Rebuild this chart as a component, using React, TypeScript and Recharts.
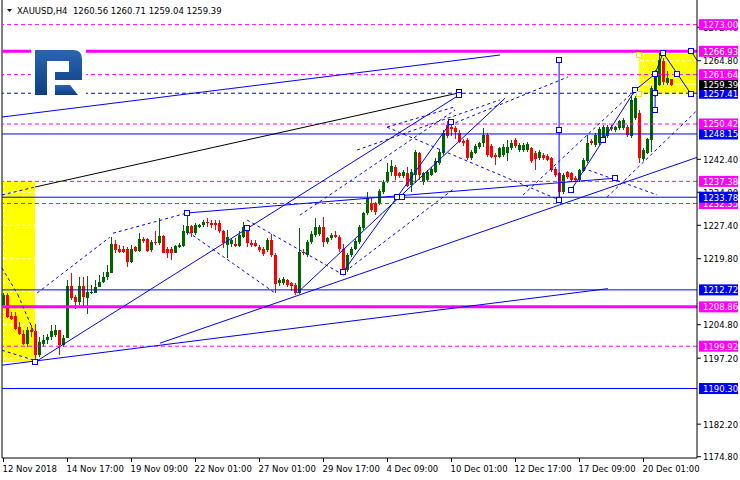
import React from 'react';
import { ComposedChart, Bar, XAxis, YAxis, ReferenceLine, ReferenceArea, ReferenceDot } from 'recharts';

// XAUUSD H4 candles, one per 4 hours from 12 Nov 2018
const opens = [
  1209.25, 1211.5, 1206.8, 1206.8, 1204.3, 1202.8, 1200.5, 1203.7, 1203.3, 1197.9,
  1200.5, 1201.3, 1202.0, 1202.4, 1203.55, 1200.1, 1201.7, 1213.6, 1211.1, 1210.0,
  1213.6, 1210.9, 1212.05, 1212.05, 1213.4, 1214.6, 1215.55, 1216.6, 1223.1, 1221.9,
  1221.9, 1221.9, 1219.1, 1222.4, 1221.6, 1224.2, 1224.2, 1221.8, 1223.7, 1223.3,
  1225.0, 1221.9, 1221.9, 1221.2, 1222.4, 1222.7, 1225.7, 1227.2, 1225.7, 1227.1,
  1227.5, 1228.2, 1227.85, 1228.0, 1227.85, 1226.2, 1222.9, 1223.1, 1223.1, 1222.7,
  1224.8, 1226.9, 1223.4, 1223.3, 1222.5, 1221.9, 1221.75, 1224.0, 1220.6, 1214.2,
  1214.3, 1214.9, 1214.3, 1213.8, 1211.9, 1221.4, 1220.6, 1223.6, 1225.2, 1225.5,
  1227.1, 1223.6, 1224.4, 1225.2, 1224.8, 1222.1, 1217.2, 1220.6, 1222.1, 1223.6,
  1226.7, 1230.1, 1232.4, 1232.4, 1232.4, 1235.0, 1237.3, 1239.6, 1240.7, 1239.2,
  1238.5, 1239.2, 1236.6, 1238.8, 1243.8, 1237.3, 1237.7, 1238.8, 1239.6, 1241.5,
  1243.8, 1250.2, 1249.7, 1249.5, 1248.3, 1246.6, 1246.8, 1242.6, 1243.9, 1245.3,
  1246.0, 1247.9, 1245.4, 1243.4, 1243.0, 1243.4, 1243.8, 1244.9, 1246.8, 1244.5,
  1244.4, 1244.5, 1244.9, 1243.8, 1242.6, 1243.4, 1243.2, 1242.6, 1240.3, 1239.2,
  1235.0, 1239.4, 1239.2, 1238.1, 1237.7, 1239.8, 1241.9, 1246.6, 1245.7, 1246.0,
  1247.2, 1247.6, 1249.7, 1249.1, 1249.4, 1249.4, 1249.8, 1247.6, 1251.7, 1253.0,
  1242.4, 1243.8, 1246.8, 1257.5, 1259.3, 1264.8, 1259.7, 1260.56,
];
const highs = [
  1212.0, 1211.9, 1207.7, 1207.7, 1205.45, 1203.7, 1204.3, 1204.7, 1204.9, 1202.0,
  1202.4, 1202.8, 1204.7, 1204.7, 1203.7, 1202.4, 1215.0, 1216.5, 1211.5, 1215.7,
  1215.7, 1215.9, 1213.8, 1214.9, 1216.1, 1216.8, 1218.4, 1224.8, 1224.1, 1222.9,
  1222.7, 1222.4, 1222.9, 1222.7, 1225.6, 1224.8, 1224.4, 1224.1, 1226.2, 1229.0,
  1225.2, 1222.5, 1222.4, 1222.9, 1223.4, 1227.5, 1230.0, 1227.5, 1227.85, 1227.7,
  1228.6, 1229.0, 1228.6, 1228.6, 1228.6, 1226.3, 1226.3, 1224.4, 1224.4, 1226.0,
  1228.2, 1227.2, 1224.0, 1224.0, 1223.0, 1222.4, 1224.4, 1225.5, 1221.0, 1215.5,
  1215.7, 1215.3, 1214.6, 1214.2, 1226.7, 1222.0, 1224.0, 1226.0, 1229.0, 1227.5,
  1229.3, 1224.8, 1225.6, 1226.0, 1225.2, 1223.2, 1221.0, 1222.5, 1224.2, 1227.5,
  1230.5, 1235.0, 1233.5, 1232.8, 1235.7, 1237.7, 1241.5, 1242.2, 1241.1, 1239.6,
  1240.0, 1240.7, 1240.3, 1244.5, 1244.1, 1239.6, 1240.0, 1240.7, 1242.6, 1244.8,
  1249.1, 1251.0, 1250.2, 1250.0, 1249.1, 1247.0, 1247.2, 1244.6, 1245.8, 1246.4,
  1249.5, 1248.3, 1245.8, 1243.8, 1245.3, 1245.8, 1246.8, 1246.8, 1247.2, 1246.2,
  1246.0, 1246.3, 1245.3, 1244.2, 1244.5, 1243.8, 1243.6, 1243.0, 1240.7, 1239.6,
  1239.2, 1239.8, 1239.6, 1238.5, 1240.3, 1242.6, 1247.9, 1247.0, 1248.3, 1249.7,
  1250.1, 1250.1, 1250.1, 1250.0, 1251.4, 1251.8, 1250.2, 1256.7, 1256.7, 1253.5,
  1244.9, 1247.3, 1259.0, 1262.6, 1266.6, 1265.5, 1262.5, 1260.71,
];
const lows = [
  1208.9, 1206.4, 1205.8, 1203.7, 1202.4, 1200.1, 1199.75, 1202.0, 1196.5, 1197.5,
  1199.75, 1200.5, 1201.3, 1202.0, 1197.9, 1199.75, 1201.7, 1210.5, 1208.3, 1209.2,
  1209.0, 1207.35, 1211.75, 1211.9, 1213.3, 1214.2, 1214.9, 1216.5, 1221.2, 1221.2,
  1221.0, 1218.0, 1218.9, 1221.4, 1221.4, 1223.3, 1221.4, 1221.4, 1222.9, 1222.9,
  1221.0, 1219.9, 1219.5, 1221.0, 1222.2, 1222.5, 1225.2, 1224.8, 1225.2, 1226.7,
  1227.1, 1227.1, 1226.7, 1226.3, 1225.6, 1222.2, 1219.9, 1222.5, 1222.5, 1222.5,
  1224.4, 1222.5, 1222.5, 1222.4, 1221.4, 1220.4, 1221.4, 1220.2, 1211.9, 1213.6,
  1213.9, 1213.4, 1212.5, 1211.5, 1211.7, 1220.6, 1220.2, 1223.2, 1224.8, 1225.0,
  1222.5, 1223.2, 1224.0, 1224.4, 1221.4, 1216.4, 1216.8, 1220.2, 1221.7, 1223.2,
  1226.3, 1229.7, 1230.5, 1229.7, 1232.0, 1234.6, 1236.9, 1238.5, 1237.7, 1238.2,
  1238.1, 1236.0, 1235.0, 1236.9, 1237.7, 1236.6, 1237.3, 1238.5, 1239.2, 1241.1,
  1243.4, 1247.2, 1247.6, 1247.0, 1246.0, 1245.5, 1242.2, 1242.2, 1243.5, 1244.8,
  1245.3, 1243.0, 1242.6, 1241.1, 1242.6, 1243.0, 1241.9, 1244.5, 1245.0, 1244.1,
  1244.0, 1244.1, 1241.5, 1239.9, 1242.2, 1242.2, 1241.9, 1239.6, 1238.4, 1233.9,
  1234.6, 1237.9, 1237.3, 1237.3, 1237.3, 1239.4, 1241.5, 1245.6, 1245.3, 1245.6,
  1246.8, 1247.2, 1248.8, 1248.7, 1249.0, 1249.0, 1247.5, 1247.2, 1251.3, 1241.5,
  1242.0, 1243.7, 1244.1, 1256.5, 1259.0, 1259.3, 1259.3, 1259.04,
];
const closes = [
  1211.5, 1206.6, 1206.2, 1203.9, 1202.8, 1200.4, 1203.7, 1203.2, 1197.9, 1200.9,
  1201.3, 1202.0, 1203.3, 1203.55, 1200.1, 1201.7, 1213.6, 1210.8, 1210.0, 1213.6,
  1211.1, 1212.3, 1212.3, 1213.4, 1214.6, 1215.7, 1216.8, 1223.1, 1221.8, 1221.4,
  1221.4, 1219.1, 1221.9, 1221.6, 1224.2, 1223.9, 1221.6, 1223.7, 1223.3, 1225.0,
  1221.2, 1221.2, 1221.2, 1222.7, 1222.9, 1226.1, 1227.2, 1225.7, 1227.5, 1227.5,
  1228.2, 1227.85, 1227.5, 1227.5, 1226.0, 1223.3, 1224.8, 1224.1, 1222.7, 1225.2,
  1226.9, 1223.4, 1222.9, 1222.8, 1221.8, 1220.8, 1224.0, 1220.6, 1214.0, 1215.0,
  1215.3, 1213.8, 1213.6, 1211.9, 1221.4, 1221.0, 1223.6, 1225.5, 1227.1, 1227.1,
  1223.6, 1224.4, 1225.2, 1224.8, 1222.1, 1217.2, 1220.6, 1222.1, 1223.8, 1227.1,
  1230.1, 1233.5, 1230.9, 1230.5, 1235.3, 1237.3, 1239.6, 1240.9, 1238.5, 1238.6,
  1239.6, 1236.3, 1239.6, 1244.1, 1238.8, 1239.2, 1239.6, 1240.3, 1241.9, 1244.1,
  1248.3, 1247.6, 1249.2, 1248.5, 1246.4, 1246.0, 1242.6, 1244.1, 1245.4, 1246.0,
  1247.9, 1243.4, 1243.0, 1243.0, 1244.9, 1245.3, 1245.3, 1246.2, 1245.4, 1245.7,
  1245.7, 1245.9, 1241.9, 1242.4, 1244.1, 1242.6, 1242.3, 1240.0, 1238.8, 1235.0,
  1238.8, 1238.3, 1237.7, 1237.7, 1240.0, 1242.2, 1246.2, 1246.0, 1247.9, 1249.3,
  1249.7, 1249.7, 1249.2, 1249.7, 1251.0, 1251.4, 1247.9, 1255.9, 1256.3, 1242.6,
  1244.5, 1246.9, 1258.5, 1262.0, 1264.9, 1260.0, 1260.8, 1259.39,
];

const xTicks = [0, 16, 32, 48, 64, 80, 96, 112, 128, 144, 160];
const xTickLabels = [
  '12 Nov 2018', '14 Nov 17:00', '19 Nov 09:00', '22 Nov 01:00', '27 Nov 01:00', '29 Nov 17:00',
  '4 Dec 09:00', '10 Dec 01:00', '12 Dec 17:00', '17 Dec 09:00', '20 Dec 01:00',
];
// price grid; only these get a plain label on the scale
const gridPrices = [1174.8, 1182.2, 1189.7, 1197.2, 1204.8, 1212.3, 1219.8, 1227.4, 1234.9, 1242.4, 1249.9, 1257.4, 1264.8, 1272.4];
const priceLabels = [1174.8, 1182.2, 1197.2, 1204.8, 1219.8, 1227.4, 1234.9, 1242.4, 1264.8, 1272.4];

// horizontal levels drawn on the chart
const magentaDashed = [1273.0, 1261.64, 1250.42, 1237.38, 1232.35, 1199.92];
const magentaSolid = [1266.93, 1208.86];
const blueDashed = [1257.41];
const blueSolid = [1248.15, 1233.78, 1212.72, 1190.3];
const lastPrice = 1259.39;

// trend lines as [bar1, price1, bar2, price2]
const blueLines = [
  [-0.375, 1252.0, 124.1, 1266.1],
  [7.9, 1196.3, 113.9, 1257.0],
  [-0.375, 1195.6, 151.1, 1213.0],
  [39.1, 1200.6, 173.375, 1242.83],
  [45.9, 1230.2, 152.9, 1238.1],
  [73.4, 1212.0, 125.4, 1256.3],
  [84.9, 1216.8, 98.4, 1233.8],
  [98.4, 1233.8, 111.9, 1250.9],
  [138.9, 1265.0, 138.9, 1233.1],
  [141.9, 1235.4, 157.9, 1258.1],
  [157.9, 1258.1, 162.9, 1261.8],
  [162.9, 1261.8, 164.9, 1266.6],
  [164.9, 1266.6, 171.9, 1257.2],
  [162.9, 1261.8, 162.9, 1253.6],
  [171.9, 1267.0, 173.375, 1264.9],
];
const blackLines = [[7.9, 1236.1, 113.9, 1257.5]];
const dottedLines = [
  [8.4, 1212.0, 26.6, 1224.7],
  [27.4, 1225.6, 45.9, 1230.2],
  [46.1, 1225.9, 67.9, 1212.0],
  [60.9, 1228.6, 85.4, 1215.9],
  [74.1, 1229.7, 112.9, 1253.6],
  [88.4, 1244.5, 124.1, 1255.9],
  [86.6, 1217.7, 112.9, 1235.9],
  [95.9, 1249.7, 139.1, 1233.1],
  [144.9, 1240.4, 163.4, 1234.3],
  [129.9, 1234.3, 157.9, 1258.1],
  [150.9, 1233.8, 173.375, 1253.5],
  [111.6, 1250.2, 141.1, 1261.1],
  [95.9, 1249.7, 112.4, 1254.2],
  [-0.375, 1217.7, 3.6, 1211.6],
  [3.6, 1211.6, 7.9, 1202.5],
  [-0.375, 1199.0, 7.4, 1196.8],
  [-0.375, 1234.3, 7.9, 1236.1],
];
const anchorPoints = [
  [7.9, 1196.3], [45.9, 1230.2], [60.9, 1226.8], [84.9, 1216.8], [98.4, 1233.8], [99.6, 1233.8],
  [111.9, 1250.9], [113.9, 1257.0], [138.9, 1265.0], [138.9, 1249.05], [138.9, 1233.1],
  [141.9, 1235.4], [149.9, 1246.8], [152.9, 1238.1], [157.9, 1258.1], [162.9, 1261.8],
  [162.9, 1257.5], [162.9, 1253.6], [164.9, 1266.6], [168.4, 1261.8], [171.9, 1257.2], [171.9, 1267.0],
];
const boxAnchors = [[158.9, 1266.1], [158.9, 1257.2]];
// yellow zones as [bar1, bar2, priceLow, priceHigh]
const zones = [
  [-0.375, 7.9, 1196.3, 1237.38],
  [158.9, 173.375, 1257.2, 1266.3],
];

const X_DOMAIN = [-0.375, 173.375];
const Y_DOMAIN = [1174.51, 1278.6];
const FONT = '"DejaVu Sans", sans-serif';
const MAGENTA = '#ff00ff';
const BLUE = '#0000ff';

const data = opens.map((o, i) => ({
  i,
  o,
  h: highs[i],
  l: lows[i],
  c: closes[i],
  range: [lows[i], highs[i]],
}));

const boxes = [
  ...magentaDashed.map((p) => ({ p, color: MAGENTA })),
  ...magentaSolid.map((p) => ({ p, color: MAGENTA })),
  ...blueDashed.map((p) => ({ p, color: BLUE })),
  ...blueSolid.map((p) => ({ p, color: BLUE })),
  { p: lastPrice, color: '#000000' },
].sort((a, b) => a.p - b.p);

const yTickValues = [...priceLabels, ...boxes.map((b) => b.p)];

function Candle(props: any) {
  const { x, y, width, height, payload } = props;
  if (!payload) return null;
  const top = Math.min(y, y + height);
  const h = Math.abs(height);
  const k = h / (payload.h - payload.l || 1);
  const py = (v: number) => top + (payload.h - v) * k;
  const cx = Math.round(x + width / 2 - 0.5) + 0.5;
  const color = payload.c >= payload.o ? '#006400' : '#ff0000';
  const bt = py(Math.max(payload.o, payload.c));
  const bb = py(Math.min(payload.o, payload.c));
  return (
    <g shapeRendering="crispEdges">
      <line x1={cx} x2={cx} y1={top} y2={top + h} stroke={color} />
      <rect x={cx - 1.5} y={bt} width={3} height={Math.max(1, bb - bt)} fill={color} />
    </g>
  );
}

function PriceTick(props: any) {
  const { x, y, payload } = props;
  const v = payload.value;
  const box = boxes.find((b) => Math.abs(b.p - v) < 1e-6);
  if (box) {
    return (
      <g>
        <rect x={x + 2} y={y - 5.5} width={39} height={11} fill={box.color} />
        <text x={x + 6} y={y + 3.5} fill="#fff" fontSize={8.5} fontFamily={FONT}>{v.toFixed(2)}</text>
      </g>
    );
  }
  return (
    <g>
      <line x1={x} x2={x + 4} y1={y} y2={y} stroke="#000" />
      <text x={x + 6} y={y + 3.5} fill="#000" fontSize={8.5} fontFamily={FONT}>{v.toFixed(2)}</text>
    </g>
  );
}

function TimeTick(props: any) {
  const { x, y, payload } = props;
  const label = xTickLabels[xTicks.indexOf(payload.value)];
  return (
    <g>
      <line x1={x} x2={x} y1={y} y2={y + 4} stroke="#000" />
      <text x={x - 1} y={y + 14} fill="#000" fontSize={8.5} fontFamily={FONT}>{label}</text>
    </g>
  );
}

const square = (stroke: string) => (p: any) => (
  <rect x={Math.round(p.cx) - 2.5} y={Math.round(p.cy) - 2.5} width={5} height={5} fill="#fff" stroke={stroke} />
);

export default function App() {
  return (
    <div style={{ position: 'absolute', left: 0, top: 0, width: 740, height: 480, background: '#fff' }}>
      <ComposedChart width={740} height={480} data={data} margin={{ top: 0, right: 0, bottom: 0, left: 2 }}>
        <XAxis
          type="number"
          dataKey="i"
          domain={X_DOMAIN}
          allowDataOverflow
          ticks={xTicks}
          interval={0}
          height={22}
          tickSize={0}
          tickMargin={0}
          tick={<TimeTick />}
          axisLine={{ stroke: '#000' }}
          tickLine={false}
        />
        <YAxis
          type="number"
          orientation="right"
          domain={Y_DOMAIN}
          allowDataOverflow
          ticks={yTickValues}
          interval={0}
          width={43}
          tickSize={0}
          tickMargin={0}
          tick={<PriceTick />}
          axisLine={{ stroke: '#000' }}
          tickLine={false}
        />
        {zones.map((z, k) => (
          <ReferenceArea key={'z' + k} x1={z[0]} x2={z[1]} y1={z[2]} y2={z[3]} fill="#ffff00" fillOpacity={1} stroke="none" ifOverflow="visible" zIndex={50} />
        ))}
        {gridPrices.map((p) => (
          <ReferenceLine key={'g' + p} y={p} stroke="#fff" strokeDasharray="3 3" zIndex={60} />
        ))}
        {xTicks.map((t) => (
          <ReferenceLine key={'gx' + t} x={t} stroke="#fff" strokeDasharray="3 3" zIndex={60} />
        ))}
        <ReferenceLine segment={[{ x: 158.9, y: 1259.5 }, { x: 173.375, y: 1259.5 }]} stroke="#fff" zIndex={60} />
        <ReferenceLine x={X_DOMAIN[0]} stroke="#000" ifOverflow="visible" zIndex={60} />
        <Bar dataKey="range" barSize={3} shape={<Candle />} isAnimationActive={false} zIndex={300} />
        {magentaDashed.map((p) => (
          <ReferenceLine key={'md' + p} y={p} stroke={MAGENTA} strokeDasharray="4 3" zIndex={400} />
        ))}
        {magentaSolid.map((p) => (
          <ReferenceLine key={'ms' + p} y={p} stroke={MAGENTA} strokeWidth={3} zIndex={400} />
        ))}
        {blueDashed.map((p) => (
          <ReferenceLine key={'bd' + p} y={p} stroke={BLUE} strokeDasharray="4 3" zIndex={400} />
        ))}
        {blueSolid.map((p) => (
          <ReferenceLine key={'bs' + p} y={p} stroke={BLUE} zIndex={400} />
        ))}
        {dottedLines.map((s, k) => (
          <ReferenceLine key={'d' + k} segment={[{ x: s[0], y: s[1] }, { x: s[2], y: s[3] }]} stroke={BLUE} strokeDasharray="3 3" ifOverflow="visible" zIndex={410} />
        ))}
        {blackLines.map((s, k) => (
          <ReferenceLine key={'k' + k} segment={[{ x: s[0], y: s[1] }, { x: s[2], y: s[3] }]} stroke="#000" ifOverflow="visible" zIndex={410} />
        ))}
        {blueLines.map((s, k) => (
          <ReferenceLine key={'l' + k} segment={[{ x: s[0], y: s[1] }, { x: s[2], y: s[3] }]} stroke={BLUE} ifOverflow="visible" zIndex={420} />
        ))}
        <ReferenceDot x={113.9} y={1257.6} r={3} shape={square('#000')} ifOverflow="visible" zIndex={600} />
        {anchorPoints.map((p, k) => (
          <ReferenceDot key={'a' + k} x={p[0]} y={p[1]} r={3} shape={square(BLUE)} ifOverflow="visible" zIndex={610} />
        ))}
        {boxAnchors.map((p, k) => (
          <ReferenceDot key={'y' + k} x={p[0]} y={p[1]} r={3} shape={square('#e8e800')} ifOverflow="visible" zIndex={610} />
        ))}
      </ComposedChart>
      <svg width={740} height={480} style={{ position: 'absolute', left: 0, top: 0, pointerEvents: 'none' }}>
        <defs>
          <linearGradient id="logoGrad" x1="0" y1="0" x2="0" y2="1">
            <stop offset="0" stopColor="#2a64b2" />
            <stop offset="1" stopColor="#0d3f80" />
          </linearGradient>
        </defs>
        <rect x={31} y={46} width={55} height={51} fill="#fff" />
        <path d="M35 50 H73 Q82 50 82 59 V80 H55 V72 H69 V61 H47 V95 H35 Z" fill="url(#logoGrad)" />
        <path d="M55 85 H70 L78 95 H55 Z" fill="url(#logoGrad)" />
        <polygon points="7,9 12,9 9.5,12" fill="#000" />
        <text x={17} y={14} fontSize={8.5} fontFamily={FONT} fill="#000" style={{ whiteSpace: 'pre' }}>
          XAUUSD,H4{'\u00a0\u00a0'}1260.56 1260.71 1259.04 1259.39
        </text>
      </svg>
    </div>
  );
}
